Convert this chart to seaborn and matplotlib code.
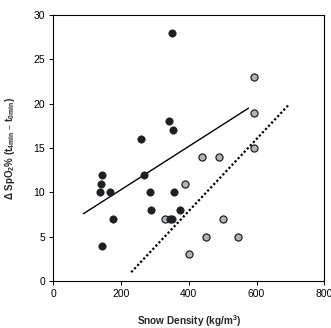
import numpy as np
import pandas as pd
import seaborn as sns
import matplotlib.pyplot as plt

# dark group (filled black circles)
dark_density = [350, 342, 353, 260, 268, 144, 142, 139, 168, 284, 355, 176, 287, 374, 343, 350, 144]
dark_spo2 = [28, 18, 17, 16, 12, 12, 11, 10, 10, 10, 10, 7, 8, 8, 7, 7, 4]

# grey group (open grey circles)
grey_density = [592, 592, 592, 439, 490, 389, 330, 500, 451, 546, 400]
grey_spo2 = [23, 19, 15, 14, 14, 11, 7, 7, 5, 5, 3]

# fitted lines
solid_x = [89, 576]
solid_y = [7.6, 19.5]
dotted_x = [230, 694]
dotted_y = [1.0, 19.85]

sns.set_style('white')
plt.rcParams['font.family'] = ['Liberation Sans', 'DejaVu Sans']
plt.rcParams['mathtext.default'] = 'regular'

fig = plt.figure(figsize=(3.31, 3.28), dpi=100)
ax = fig.add_axes([0.161, 0.143, 0.819, 0.811])

sns.lineplot(x=solid_x, y=solid_y, ax=ax, color='black', linewidth=1.0)
sns.lineplot(x=dotted_x, y=dotted_y, ax=ax, color='black', linewidth=1.6,
             linestyle=(0, (1, 1)))

sns.scatterplot(x=grey_density, y=grey_spo2, ax=ax, color='#b4b4b4',
                edgecolor='#222222', linewidth=0.9, s=26, zorder=3)
sns.scatterplot(x=dark_density, y=dark_spo2, ax=ax, color='#1e2124',
                edgecolor='#1e2124', linewidth=0.5, s=28, zorder=4)

ax.set_xlim(0, 800)
ax.set_ylim(0, 30)
ax.set_xticks([0, 200, 400, 600, 800])
ax.set_yticks([0, 5, 10, 15, 20, 25, 30])
for sp in ax.spines.values():
    sp.set_color('black')
    sp.set_linewidth(0.8)
ax.tick_params(direction='out', length=3, width=0.7, colors='black',
               labelsize=7.5, pad=3, bottom=True, left=True)

ax.set_xlabel('Snow Density (kg/m$^3$)', fontsize=7.2, fontweight='bold', labelpad=10)
ax.set_ylabel('Δ SpO$_2$% (t$_{4min}$ – t$_{0min}$)', fontsize=7,
              fontweight='bold', labelpad=12)

fig.savefig('out.png', dpi=100)
